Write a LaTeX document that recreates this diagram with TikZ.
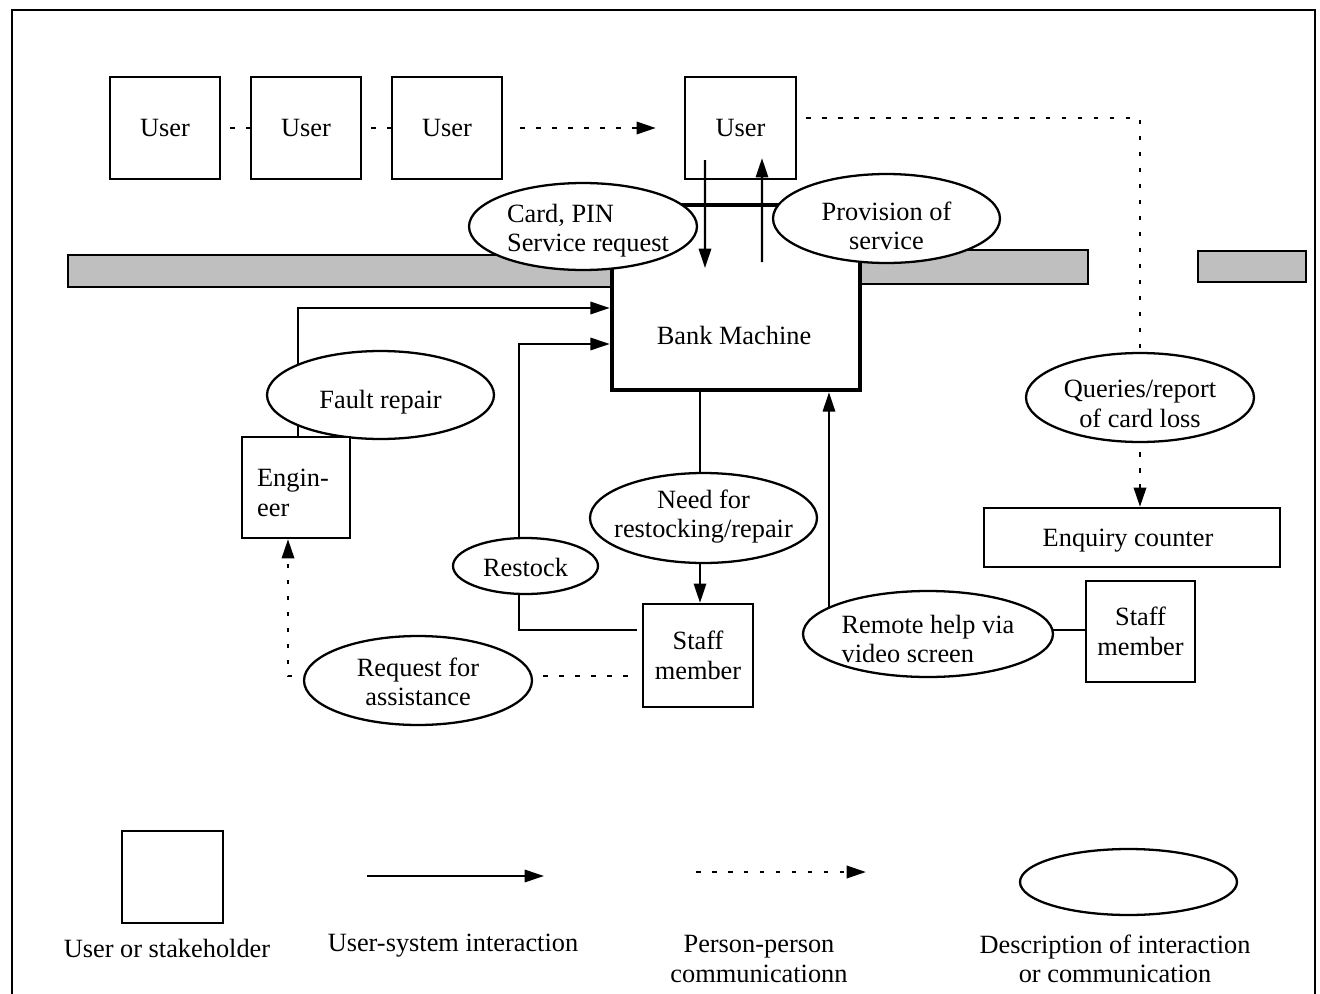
\documentclass[tikz,border=0pt]{standalone}
\usepackage{fontspec}
\setmainfont{Liberation Serif}
\usetikzlibrary{shapes.geometric,arrows.meta,backgrounds}
\begin{document}
\begin{tikzpicture}[x=0.02cm,y=-0.02cm,
  font=\fontsize{15}{16.8}\selectfont,
  box/.style={draw,fill=white,line width=1.3pt,inner sep=0pt,align=center},
  userbox/.style={box,minimum width=2.2cm,minimum height=2.04cm},
  oval/.style={ellipse,draw,fill=white,line width=1.3pt,inner sep=0pt},
  midoval/.style={oval,minimum width=4.56cm,minimum height=1.78cm},
  tip/.style={-{Triangle[length=11pt,width=7pt]}},
  us/.style={line width=1.3pt},
  pp/.style={line width=1.5pt,dash pattern=on 2.6pt off 6.5pt,dash phase=4pt},
  bar/.style={draw,fill=black!25,line width=1.3pt}]
\useasboundingbox (0,0) rectangle (1320,994);

% outer frame
\draw[line width=1.6pt] (12,994) -- (12,10) -- (1315,10) -- (1315,994);

% wall / counter strips
\draw[bar] (68,255) rectangle (612,287);
\draw[bar] (860,250) rectangle (1088,284);
\draw[bar] (1198,251) rectangle (1306,282);

% queue of users
\node[userbox] (u1) at (165,128) {User};
\node[userbox] (u2) at (306,128) {User};
\node[userbox] (u3) at (447,128) {User};
\node[userbox,minimum width=2.22cm] (u4) at (740.5,128) {User};

% the machine
\node[draw,line width=2.6pt,minimum width=4.96cm,minimum height=3.7cm,inner sep=0pt] (bm) at (736,297.5) {};
\node (bmtext) at (734,335) {Bank Machine};

% interaction descriptions
\node[oval,minimum width=4.56cm,minimum height=1.74cm,
  label={[align=left,xshift=0.1cm,yshift=-0.08cm]center:{Card, PIN\\Service request}}] (card) at (583,226.5) {};
\node[oval,minimum width=4.54cm,minimum height=1.78cm,
  label={[align=center,yshift=-0.15cm]center:{Provision of\\service}}] (prov) at (886.5,218.5) {};
\node[oval,minimum width=4.54cm,minimum height=1.76cm,
  label={[yshift=-0.14cm]center:{Fault repair}}] (fault) at (380.5,395) {};
\node[oval,minimum width=2.9cm,minimum height=1.12cm,
  label={[yshift=-0.03cm]center:{Restock}}] (restock) at (525.5,566) {};
\node[oval,minimum width=4.54cm,minimum height=1.8cm,
  label={[align=center,yshift=0.03cm]center:{Need for\\restocking/repair}}] (need) at (703.5,518) {};
\node[midoval,
  label={[align=center,yshift=-0.03cm]center:{Request for\\assistance}}] (request) at (418,680.5) {};
\node[oval,minimum width=5.0cm,minimum height=1.72cm,
  label={[align=left,yshift=-0.1cm]center:{Remote help via\\video screen}}] (remote) at (928,634) {};
\node[midoval,
  label={[align=center,yshift=-0.13cm]center:{Queries/report\\of card loss}}] (queries) at (1140,397.5) {};

% stakeholders
\node[box,align=left,minimum width=2.16cm,minimum height=2.02cm] (engineer) at (296,487.5) {};
\node[align=left] (engtext) at (293,493) {Engin-\\eer};
\node[box,minimum width=2.2cm,minimum height=2.06cm] (staff1) at (698,655.5) {Staff\\member};
\node[box,minimum width=2.18cm,minimum height=2.02cm] (staff2) at (1140.5,631.5) {Staff\\member};
\node[box,minimum width=5.92cm,minimum height=1.18cm] (enquiry) at (1132,537.5) {};
\node (enqtext) at (1128,541) {Enquiry counter};

% connectors running behind the descriptions
\begin{pgfonlayer}{background}
\draw[us,tip] ([xshift=0.04cm]engineer.north) |- ([yshift=-0.21cm]bm.west);
\draw[us,tip] ([xshift=-0.1cm,yshift=0.51cm]staff1.west) -| ([xshift=-0.13cm]restock.center) |- ([yshift=-0.93cm]bm.west);
\draw[us,tip] ([xshift=0.04cm]staff1.north |- bm.south) -- ([xshift=0.04cm]staff1.north);
\draw[pp,tip] ([xshift=-0.1cm,yshift=-0.41cm]staff1.west) -| ([xshift=-0.16cm]engineer.south);
\draw[us,tip] ([yshift=0.03cm]staff2.west) -| ([xshift=1.86cm]bm.south);
\draw[pp] ([yshift=0.2cm]u4.east) -| (queries.north);
\draw[pp,tip] (queries.south) -- (queries.south |- enquiry.north);
\end{pgfonlayer}

% queue and card / service exchange
\draw[pp] (u1) -- (u2);
\draw[pp] (u2) -- (u3);
\draw[pp,tip,shorten <=0.16cm,shorten >=0.56cm] (u3) -- (u4);
\coordinate (cardin) at (705,268);
\coordinate (servout) at (762,262);
\draw[us,tip] ([xshift=-0.71cm,yshift=0.4cm]u4.south) -- (cardin);
\draw[us,tip] (servout) -- ([xshift=0.43cm,yshift=0.44cm]u4.south);

% key
\node[box,minimum width=2.02cm,minimum height=1.84cm] (keybox) at (172.5,877) {};
\coordinate (keya) at (367,876);
\coordinate (keyb) at (544,876);
\draw[us,tip] (keya) -- (keyb);
\coordinate (keyc) at (687,872);
\coordinate (keyd) at (866,872);
\draw[pp,tip] (keyc) -- (keyd);
\node[oval,minimum width=4.34cm,minimum height=1.32cm] (keyoval) at (1128.5,882) {};
\node (keyt1) at (167,948) {User or stakeholder};
\node (keyt2) at (453,946) {User-system interaction};
\node[align=center] (keyt3) at (759,959) {Person-person\\communicationn};
\node[align=center] (keyt4) at (1115,959) {Description of interaction\\or communication};
\end{tikzpicture}
\end{document}
